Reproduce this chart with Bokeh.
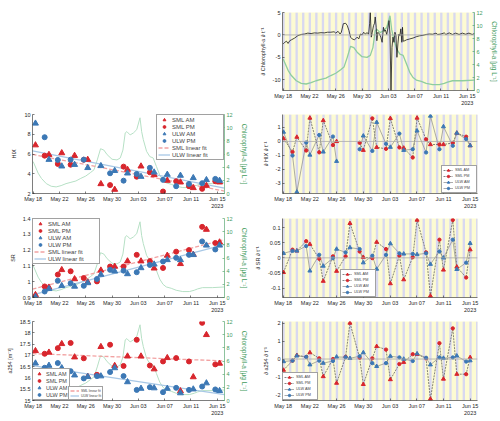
import numpy as np
from bokeh.plotting import figure
from bokeh.models import (Range1d, LinearAxis, FixedTicker, PrintfTickFormatter,
                          Legend, LegendItem, Label, Span, Spacer)
from bokeh.layouts import column, row
from bokeh.embed import file_html
from bokeh.resources import INLINE

nan = float("nan")

# ---------------- time axis (days after 2023-05-18 00:00) ----------------
TICK_DAYS = [0, 4, 8, 12, 16, 20, 24, 28]
TICK_LABELS = ["May 18", "May 22", "May 26", "May 30", "Jun 03", "Jun 07", "Jun 11", "Jun 15\n2023"]
X_LO, X_HI = -0.1, 29.1
NIGHT_START_HOUR, NIGHT_END_HOUR = 21.0, 5.5

# ---------------- chlorophyll-a (µg/L) ----------------
chl_day = [0.0, 0.75, 1.25, 2.0, 2.75, 3.5, 4.25, 5.0, 5.75, 6.5, 7.25, 8.0, 8.75, 9.25,
           9.75, 10.25, 10.75, 11.25, 12.0, 12.75, 13.25, 13.65, 14.0, 14.25, 14.75, 15.25,
           15.75, 16.25, 16.5, 16.75, 17.25, 17.75, 18.25, 18.75, 19.25, 19.75, 20.25, 21.0,
           21.75, 22.75, 23.75, 24.5, 25.0, 25.75, 27.25, 29.1]
chl = [4.85, 3.1, 2.3, 1.5, 1.1, 1.0, 1.2, 1.5, 1.7, 1.9, 2.3, 2.65, 3.2, 3.6,
       5.1, 6.8, 6.6, 5.9, 5.2, 5.1, 5.4, 6.6, 9.2, 9.4, 8.9, 9.2,
       9.7, 11.5, 9.4, 8.2, 6.4, 5.6, 5.4, 4.1, 2.8, 2.0, 1.6, 1.4,
       1.1, 0.9, 0.9, 1.1, 1.3, 1.5, 1.5, 1.6]

# rate of change of chlorophyll-a (x 10^-3)
dchl_day = [0.0, 0.25, 0.5, 0.75, 1.0, 1.25, 1.75, 2.25, 2.75, 3.25, 3.75, 4.25, 4.75, 5.25,
            5.75, 6.25, 6.75, 7.25, 7.75, 8.0, 8.35, 8.65, 8.85, 9.15, 9.5, 9.75, 10.0, 10.25,
            10.5, 10.85, 11.25, 11.5, 11.75, 12.0, 12.25, 12.5, 12.75, 13.0, 13.15, 13.25, 13.4,
            13.55, 13.75, 13.9, 14.0, 14.15, 14.25, 14.4, 14.65, 14.85, 15.05, 15.25, 15.4, 15.55,
            15.75, 15.95, 16.1, 16.25, 16.4, 16.55, 16.7, 16.85, 17.0, 17.15, 17.3, 17.45, 17.6,
            17.75, 17.9, 18.05, 18.15, 18.25, 18.5, 18.75, 19.25, 19.75, 20.25, 20.75, 21.25,
            21.75, 22.25, 22.75, 23.25, 23.5, 24.0, 24.5, 24.75, 25.25, 25.75, 26.25, 26.75,
            27.25, 27.75, 28.25, 28.75, 29.1]
dchl = [-2.0, -1.65, -1.4, -1.9, -1.3, -1.1, -0.7, -0.15, 0.1, 0.2, 0.4, 0.3, 0.45, 0.4,
        0.5, 0.45, 0.6, 0.6, 0.7, 0.4, 0.8, 0.2, 0.6, 2.5, 2.6, 2.1, 1.0, -0.5,
        -0.9, -1.1, -0.5, -0.9, 0.2, 0.0, 0.6, 0.2, 0.5, 0.2, 2.5, 5.0, -0.5,
        0.6, 2.1, 2.6, 4.0, 1.7, -1.3, 0.6, 0.2, -0.5, -1.65, 1.7, 0.8, 1.1,
        0.1, 1.7, 3.2, 0.2, -12.4, -2.8, -0.5, -1.65, 0.6, -0.15, -5.0, -2.0, 0.2,
        -0.15, 1.35, -1.65, 1.7, -1.4, -1.3, -1.1, -0.9, -0.7, -0.4, -0.2, -0.1,
        0.1, 0.2, 0.15, 0.4, 0.1, 0.2, 0.45, 0.1, 0.45, 0.1, 0.4, 0.1,
        0.4, 0.15, 0.4, 0.1, 0.3]

# ---------------- sampling times ----------------
am_day = [0.35, 2.4, 4.35, 6.3, 8.3, 10.3, 12.4, 14.35, 16.4, 18.4, 20.4, 22.4, 24.35, 26.35, 28.35]
pm_day = [1.75, 3.75, 5.7, 7.7, 9.7, 11.7, 13.75, 15.75, 17.75, 19.75, 21.75, 23.7, 25.7, 27.7]
rate_am_day = [0.05, 2.05, 4.0, 6.0, 8.0, 10.0, 12.0, 14.0, 16.05, 18.05, 20.05, 22.05, 24.0, 26.0, 28.0]
rate_pm_day = [1.4, 3.45, 5.4, 7.45, 9.35, 11.45, 13.35, 15.4, 17.4, 19.4, 21.4, 23.4, 25.4, 27.4]

# ---------------- HIX ----------------
hix_sml_am = [6.90, 5.93, 6.10, 5.83, 5.43, 2.97, 2.40, 4.42, 4.76, 3.88, 3.31, 3.14, 2.57, 2.80, 3.14]
hix_sml_pm = [5.83, 5.00, 4.92, 5.42, nan, 2.85, 4.72, 3.70, 4.15, 2.20, 3.24, 2.74, 2.47, 3.24]
hix_ulw_am = [9.10, 5.43, 4.76, 4.92, 4.60, 4.80, 4.30, 4.05, 3.71, 4.15, 3.92, 3.82, 3.58, 3.38, 3.31]
hix_ulw_pm = [7.70, 5.40, 5.43, 5.43, nan, 4.05, 3.30, 3.98, 4.60, 3.38, 2.74, 2.97, 3.04, 3.48]

# ---------------- SR ----------------
sr_sml_am = [0.917, 0.964, 1.075, 1.017, 0.997, 1.072, 1.096, 1.130, 1.130, 1.085, 1.166, 1.113, 1.172, 1.330, 1.250]
sr_sml_pm = [0.970, 1.045, 1.066, 1.023, 1.002, 1.096, 1.096, 1.170, 1.130, 1.087, 1.190, 1.200, 1.347, 1.245]
sr_ulw_am = [0.904, 0.955, 0.974, 0.970, 0.992, 1.045, 1.066, 1.049, 1.087, 1.110, 1.138, 1.138, 1.170, 1.230, 1.230]
sr_ulw_pm = [0.938, 1.006, 0.990, 0.974, 1.017, 1.075, 1.070, 1.060, 1.106, 1.128, 1.151, 1.170, 1.255, 1.204]

# ---------------- a254 (1/m) ----------------
a254_sml_am = [17.20, 17.13, 17.51, 16.92, 16.06, 17.38, 16.54, 16.96, 16.96, 16.39, 16.89, 15.42, 16.04, 17.91, 16.64]
a254_sml_pm = [17.07, 17.32, 17.55, 16.87, 16.14, 17.47, 16.53, 17.69, 16.55, 16.73, 16.88, 16.73, 18.44, 16.60]
a254_ulw_am = [16.65, 16.55, 16.44, 16.12, 16.05, 16.08, 16.44, 15.82, 15.53, 15.55, 15.53, 15.33, 15.50, 15.77, 15.43]
a254_ulw_pm = [16.45, 16.66, 16.30, 15.98, 16.08, 16.26, 16.08, 15.47, 15.59, 15.37, 15.56, 15.47, 15.62, 15.49]

# ---------------- rates of change ----------------
dhix_sml_am = [0.20, 0.31, 1.68, 1.50, 0.00, nan, -0.63, -0.42, 1.65, -0.47, 1.68, -0.22, -0.22, 0.60, -0.30]
dhix_sml_pm = [-0.75, -0.65, -0.78, -0.26, nan, -0.10, 1.65, -0.53, -0.43, -1.15, 0.15, -0.22, -0.11, 0.34]
dhix_ulw_am = [0.67, -3.62, -0.97, -0.75, -1.42, nan, 0.40, 1.37, -0.41, -0.63, 0.76, 1.82, 1.06, 0.60, -0.30]
dhix_ulw_pm = [-1.01, -0.08, 0.46, 0.35, nan, -0.56, -0.68, -0.17, 0.56, -0.56, -0.79, -0.56, -0.31, 0.17]

dsr_sml_am = [-0.048, 0.023, 0.045, -0.077, -0.044, 0.114, 0.002, 0.052, -0.085, -0.072, 0.125, -0.126, -0.040, -0.030, 0.027]
dsr_sml_pm = [0.027, 0.055, -0.003, 0.005, 0.005, 0.021, -0.001, 0.029, 0.007, 0.002, 0.018, 0.060, 0.125, -0.065]
dsr_ulw_am = [0.015, 0.023, -0.043, -0.027, 0.029, 0.034, -0.016, -0.037, 0.047, 0.013, 0.011, -0.021, 0.000, -0.038, 0.048]
dsr_ulw_pm = [0.023, 0.039, 0.010, -0.001, 0.018, 0.029, 0.007, 0.010, 0.015, 0.013, 0.015, 0.021, 0.060, -0.016]

da254_sml_am = [-0.62, 0.21, 0.36, -0.98, -1.35, 2.02, -1.42, 0.71, -1.15, -0.18, 0.27, -2.24, -1.12, -0.85, 0.09]
da254_sml_pm = [-0.09, 0.12, 0.04, 0.00, 0.12, 0.07, 0.04, 0.53, -0.28, 0.27, 0.04, 0.89, 1.72, -0.85]
da254_ulw_am = [-0.14, 0.18, -0.32, -0.23, 0.12, 0.04, 0.36, -0.41, 0.16, 0.00, 0.30, -0.32, 0.05, 0.18, -0.09]
da254_ulw_pm = [-0.09, 0.12, -0.09, -0.11, 0.10, 0.16, -0.23, -0.23, 0.09, -0.11, 0.07, 0.09, 0.09, -0.14]

# ---------------- styling ----------------
FONT = "Liberation Sans"
AX = "#262626"
RED = "#d8262d"
BLUE = "#3c78b5"
GREEN_AX = "#3f9b5c"
DAY_BG = "#fdfbd3"
NIGHT_BG = "#d8d8f0"
FIT_RED = "#f2a2a2"
FIT_BLUE = "#a8c8e6"


def style_axis(ax, color=AX, label_size="5.5px", label_standoff=4):
    ax.axis_line_color = color
    ax.axis_line_width = 0.6
    ax.major_tick_line_color = color
    ax.major_tick_line_width = 0.6
    ax.major_tick_in = 2
    ax.major_tick_out = 0
    ax.minor_tick_line_color = None
    ax.major_label_text_font = FONT
    ax.major_label_text_font_size = "5.5px"
    ax.major_label_text_color = color
    ax.major_label_standoff = 2
    ax.axis_label_text_font = FONT
    ax.axis_label_text_font_size = label_size
    ax.axis_label_text_font_style = "normal"
    ax.axis_label_text_color = color
    ax.axis_label_standoff = label_standoff


def new_fig(height, top, bottom, y_lo, y_hi, striped, y_ticks, y_label, right=23):
    p = figure(width=250, height=height,
               x_range=Range1d(X_LO, X_HI), y_range=Range1d(y_lo, y_hi),
               output_backend="svg", toolbar_location=None,
               min_border_left=32, min_border_right=right,
               min_border_top=top, min_border_bottom=bottom)
    p.grid.visible = False
    p.outline_line_color = None
    p.background_fill_color = DAY_BG if striped else "white"
    p.xaxis.ticker = FixedTicker(ticks=TICK_DAYS)
    p.xaxis.major_label_overrides = dict(zip(TICK_DAYS, TICK_LABELS))
    p.yaxis.ticker = FixedTicker(ticks=y_ticks)
    p.yaxis.formatter = PrintfTickFormatter(format="%g")
    p.yaxis.axis_label = y_label
    style_axis(p.xaxis[0])
    style_axis(p.yaxis[0])
    if striped:
        days = range(-1, 31)
        p.quad(left=[d - 1 + NIGHT_START_HOUR / 24 for d in days],
               right=[d + NIGHT_END_HOUR / 24 for d in days],
               bottom=y_lo, top=y_hi, fill_color=NIGHT_BG, line_color=None)
    return p


def add_chl(p, color, width):
    p.extra_y_ranges = {"chl": Range1d(0, 12)}
    ax = LinearAxis(y_range_name="chl", ticker=FixedTicker(ticks=[0, 2, 4, 6, 8, 10, 12]),
                    axis_label="Chlorophyll-a [µg L⁻¹]")
    style_axis(ax, GREEN_AX, label_size="6.5px", label_standoff=5)
    p.add_layout(ax, "right")
    p.line(chl_day, chl, y_range_name="chl", line_color=color, line_width=width)


def tag(p, text, frame_h, above):
    p.add_layout(Label(x=-30, y=frame_h + above, x_units="screen", y_units="screen",
                       text=text, text_font=FONT, text_font_size="7px",
                       text_font_style="bold", text_baseline="middle", text_align="left",
                       text_color="#111111"))


def zero_line(p):
    p.add_layout(Span(location=0, dimension="width", line_color="#a8a8a8", line_width=0.8))


def fit(am_v, pm_v):
    t = np.concatenate([am_day, pm_day])
    v = np.concatenate([am_v, pm_v])
    ok = ~np.isnan(v)
    k, c = np.polyfit(t[ok], v[ok], 1)
    xs = np.array([X_LO, X_HI])
    return xs, k * xs + c


def merged(am_v, pm_v):
    t = np.concatenate([rate_am_day, rate_pm_day])
    v = np.concatenate([am_v, pm_v])
    o = np.argsort(t)
    return t[o], v[o]


def legend(p, items, location, font_size, gw, gh, padding=1, label_width=20):
    lg = Legend(items=[LegendItem(label=t, renderers=r) for t, r in items],
                location=location, label_text_font=FONT, label_text_font_size=font_size,
                glyph_width=gw, glyph_height=gh, label_height=gh, label_width=label_width,
                spacing=0, padding=padding, margin=0, label_standoff=2,
                border_line_color="#444444", border_line_width=0.6,
                background_fill_color="white", background_fill_alpha=1.0)
    p.add_layout(lg)


def scatter_panel(height, top, bottom, y_lo, y_hi, y_ticks, y_label,
                  s_am, s_pm, u_am, u_pm):
    p = new_fig(height, top, bottom, y_lo, y_hi, False, y_ticks, y_label)
    add_chl(p, "#b6e0c5", 1.0)
    fx, fy = fit(s_am, s_pm)
    f_sml = p.line(fx, fy, line_color=FIT_RED, line_width=1.3, line_dash="4 2")
    fx, fy = fit(u_am, u_pm)
    f_ulw = p.line(fx, fy, line_color=FIT_BLUE, line_width=1.3)
    r1 = p.scatter(am_day, s_am, marker="triangle", size=6, color=RED)
    r2 = p.scatter(pm_day, s_pm, marker="circle", size=5, color=RED)
    r3 = p.scatter(am_day, u_am, marker="triangle", size=6, color=BLUE)
    r4 = p.scatter(pm_day, u_pm, marker="circle", size=5, color=BLUE)
    return p, (r1, r2, r3, r4), (f_sml, f_ulw)


def rate_panel(height, top, bottom, vals, y_ticks, y_label):
    s_am, s_pm, u_am, u_pm = vals
    allv = np.array(s_am + s_pm + u_am + u_pm, dtype=float)
    lo, hi = np.nanmin(allv), np.nanmax(allv)
    pad = 0.02 * (hi - lo)
    p = new_fig(height, top, bottom, lo - pad, hi + pad, True, y_ticks, y_label)
    zero_line(p)
    tx, vx = merged(s_am, s_pm)
    l_sml = p.line(tx, vx, line_color="#505050", line_width=0.7, line_dash="2 1")
    tx, vx = merged(u_am, u_pm)
    l_ulw = p.line(tx, vx, line_color="#8a8a8a", line_width=0.7)
    r1 = p.scatter(rate_am_day, s_am, marker="triangle", size=4, color=RED)
    r2 = p.scatter(rate_pm_day, s_pm, marker="circle", size=3.3, color=RED)
    r3 = p.scatter(rate_am_day, u_am, marker="triangle", size=4, color=BLUE)
    r4 = p.scatter(rate_pm_day, u_pm, marker="circle", size=3.3, color=BLUE)
    items = [("SML AM", [l_sml, r1]), ("SML PM", [l_sml, r2]),
             ("ULW AM", [l_ulw, r3]), ("ULW PM", [l_ulw, r4])]
    return p, items


# ---------------- (a) chlorophyll-a and its rate of change ----------------
fa = new_fig(108, 12, 18, min(dchl), max(dchl), True, [-10, -5, 0, 5],
             "∂ Chlorophyll-a ∂ t⁻¹")
add_chl(fa, "#8fcd9f", 1.3)
zero_line(fa)
fa.line(dchl_day, dchl, line_color="#1a1a1a", line_width=0.8)
fa.add_layout(Label(x=0, y=80, x_units="screen", y_units="screen", text="×10⁻³",
                    text_font=FONT, text_font_size="5.5px", text_color=AX))
tag(fa, "(a)", 78, 2)

# ---------------- (b) HIX ----------------
fb, rb, fitb = scatter_panel(104, 6, 19, 2, 10, [2, 4, 6, 8, 10], "HIX",
                             hix_sml_am, hix_sml_pm, hix_ulw_am, hix_ulw_pm)
legend(fb, [("SML AM", [rb[0]]), ("SML PM", [rb[1]]), ("ULW AM", [rb[2]]), ("ULW PM", [rb[3]]),
            ("SML linear fit", [fitb[0]]), ("ULW linear fit", [fitb[1]])],
       "top_right", "6px", 12, 7, padding=1, label_width=50)
tag(fb, "(b)", 79, 1.5)

# ---------------- (c) rate of HIX ----------------
fc, ic = rate_panel(104, 6, 16, (dhix_sml_am, dhix_sml_pm, dhix_ulw_am, dhix_ulw_pm),
                    [-3, -2, -1, 0, 1], "∂ HIX ∂ t⁻¹")
legend(fc, ic, "bottom_right", "3.8px", 10, 6)
tag(fc, "(c)", 82, 1.5)

# ---------------- (d) SR ----------------
fd, rd, fitd = scatter_panel(103, 6, 18, 0.9, 1.4, [0.9, 1.0, 1.1, 1.2, 1.3, 1.4], "SR",
                             sr_sml_am, sr_sml_pm, sr_ulw_am, sr_ulw_pm)
legend(fd, [("SML AM", [rd[0]]), ("SML PM", [rd[1]]), ("ULW AM", [rd[2]]), ("ULW PM", [rd[3]]),
            ("SML linear fit", [fitd[0]]), ("ULW linear fit", [fitd[1]])],
       "top_left", "6px", 12, 7, padding=1, label_width=50)
tag(fd, "(d)", 79, 1.5)

# ---------------- (e) rate of SR ----------------
fe, ie = rate_panel(103, 6, 17, (dsr_sml_am, dsr_sml_pm, dsr_ulw_am, dsr_ulw_pm),
                    [-0.1, -0.05, 0, 0.05, 0.1], "∂ SR ∂ t⁻¹")
legend(fe, ie, (58, 0), "3.8px", 10, 6)
tag(fe, "(e)", 80, 1.5)

# ---------------- (f) a254 ----------------
ff, rf, fitf = scatter_panel(106, 6, 21, 15, 18.5, [15, 15.5, 16, 16.5, 17, 17.5, 18, 18.5],
                             "a254 [m⁻¹]", a254_sml_am, a254_sml_pm, a254_ulw_am, a254_ulw_pm)
legend(ff, [("SML AM", [rf[0]]), ("SML PM", [rf[1]]), ("ULW AM", [rf[2]]), ("ULW PM", [rf[3]])],
       "bottom_left", "5.5px", 10, 7, padding=1)
legend(ff, [("SML linear fit", [fitf[0]]), ("ULW linear fit", [fitf[1]])],
       (36, 0), "3.4px", 9, 5, padding=1)
tag(ff, "(f)", 79, 1.5)

# ---------------- (g) rate of a254 ----------------
fg, ig = rate_panel(106, 6, 21, (da254_sml_am, da254_sml_pm, da254_ulw_am, da254_ulw_pm),
                    [-2, -1, 0, 1, 2], "∂ a254 ∂ t⁻¹")
legend(fg, ig, "bottom_left", "3.8px", 10, 6)
tag(fg, "(g)", 79, 1.5)

layout = column(row(Spacer(width=250, height=108), fa),
                row(fb, fc), row(fd, fe), row(ff, fg))

open("out.html", "w").write(file_html(layout, INLINE))
